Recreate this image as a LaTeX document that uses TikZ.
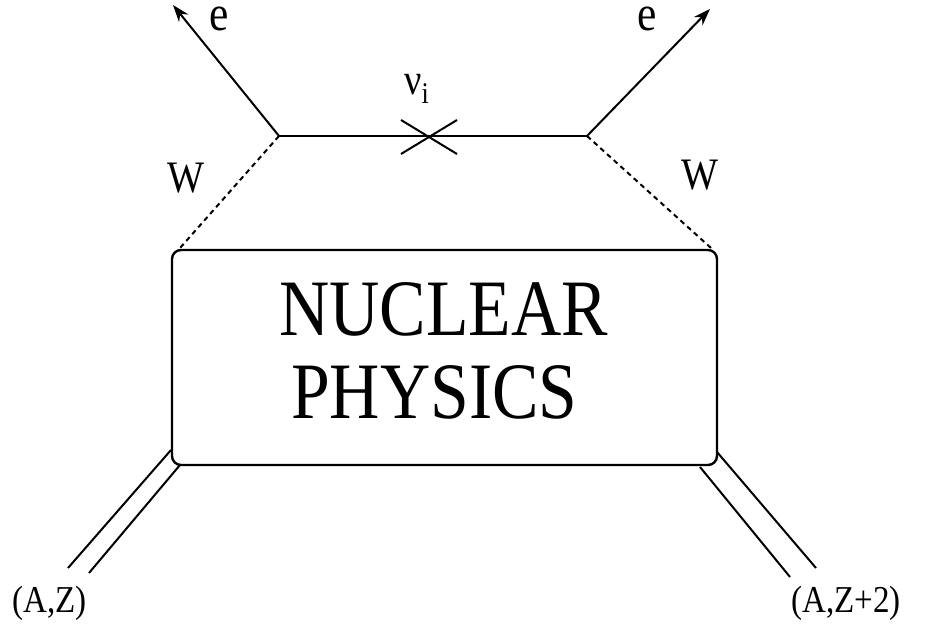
\documentclass[tikz,border=0pt]{standalone}
\usepackage{fontspec}
\setmainfont{LiberationSerif}[Extension=.ttf,UprightFont=*-Regular,BoldFont=*-Bold,ItalicFont=*-Italic,BoldItalicFont=*-BoldItalic]
\newcommand{\nrwtext}[2]{\scalebox{0.87}[1]{\fontsize{#1}{#1}\selectfont #2}}
\usetikzlibrary{arrows.meta}
\begin{document}
\begin{tikzpicture}[x=1pt,y=-1pt,
  lbl/.style={inner sep=0pt,anchor=base west},
  fline/.style={line width=2pt},
  wline/.style={line width=2pt,dash pattern=on 5pt off 4pt},
  arr/.style={fline,-{Stealth[length=17pt,width=12pt]}},
  boxst/.style={draw,line width=2.4pt,rounded corners=9pt,minimum width=545pt,minimum height=215pt,inner sep=0pt}]
\useasboundingbox (0,0) rectangle (936,628);
% vertices
\coordinate (vl) at (279,136);
\coordinate (vr) at (587,136);
\coordinate (el) at (173,5);
\coordinate (er) at (710,9);
\coordinate (bl) at (180,248);
\coordinate (br) at (711,248);
% box
\node[boxst] (box) at (444.5,357.5) {};
% electrons
\draw[arr] (vl) -- (el);
\draw[arr] (vr) -- (er);
% neutrino line
\draw[fline] (vl) -- (vr);
\coordinate (x1) at (401,120);
\coordinate (x2) at (457,154);
\coordinate (x3) at (401,154);
\coordinate (x4) at (457,120);
\draw[fline] (x1) -- (x2);
\draw[fline] (x3) -- (x4);
% W lines
\draw[wline] (vl) -- (bl);
\draw[wline] (vr) -- (br);
% nucleus lines
\coordinate (a1) at (171,450);
\coordinate (a2) at (68,568);
\coordinate (a3) at (180,465);
\coordinate (a4) at (89,573);
\coordinate (b1) at (717,452);
\coordinate (b2) at (816,568);
\coordinate (b3) at (700,467);
\coordinate (b4) at (790,577);
\draw[fline] (a1) -- (a2);
\draw[fline] (a3) -- (a4);
\draw[fline] (b1) -- (b2);
\draw[fline] (b3) -- (b4);
% labels
\node[lbl,text height=24pt] (le) at (209,31) {\nrwtext{50}{e}};
\node[lbl,text height=24pt] (re) at (637,31) {\nrwtext{50}{e}};
\node[lbl] (lw) at (167,193) {\nrwtext{45}{W}};
\node[lbl] (rw) at (681,190) {\nrwtext{45}{W}};
\node[lbl] (nu) at (404,95) {\nrwtext{44}{ν\raisebox{-9pt}{\fontsize{30}{30}\selectfont i}}};
\node[lbl] (t1) at (279,335) {\nrwtext{80}{NUCLEAR}};
\node[lbl] (t2) at (291,418) {\nrwtext{80}{PHYSICS}};
\node[lbl] (az) at (12,612) {\nrwtext{38}{(A,Z)}};
\node[lbl] (az2) at (791,612) {\nrwtext{38}{(A,Z+2)}};
\end{tikzpicture}
\end{document}
